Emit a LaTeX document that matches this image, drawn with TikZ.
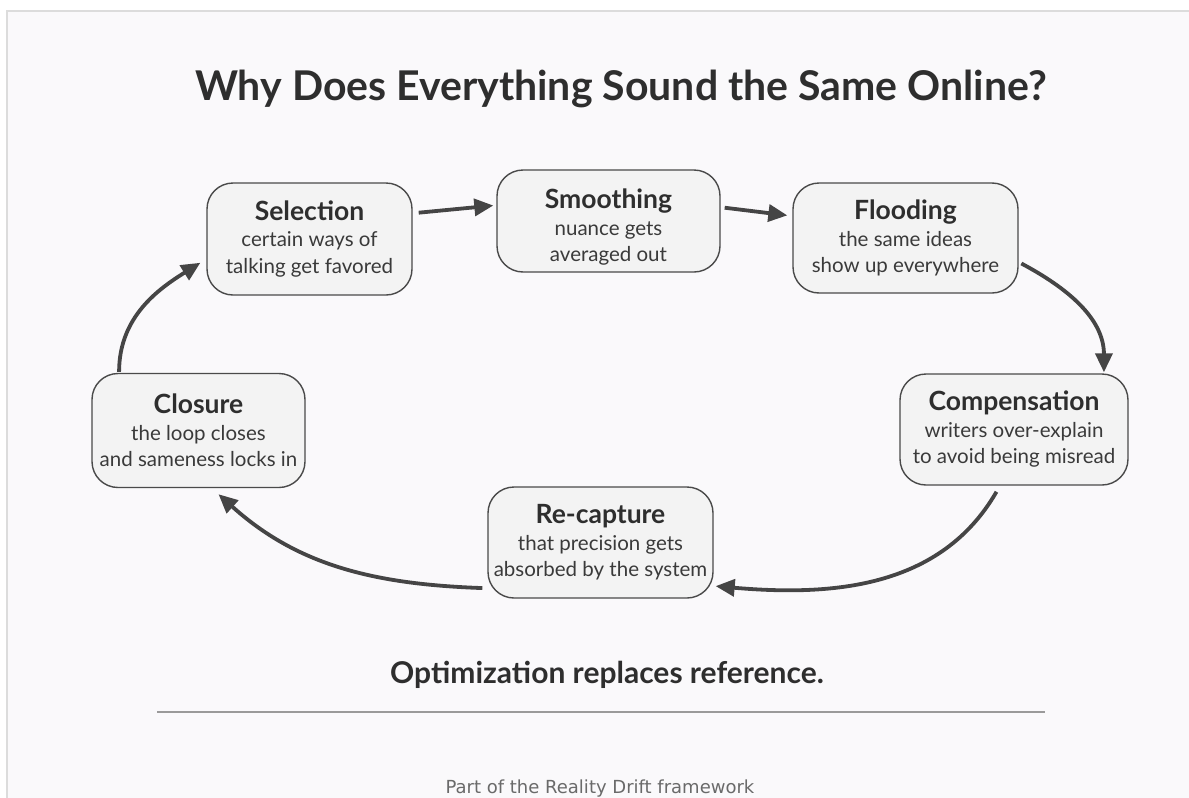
\documentclass[tikz,border=0pt]{standalone}
\usepackage{fontspec}
\setmainfont{Lato}
\newfontfamily\footfont{DejaVu Sans}
\usetikzlibrary{arrows.meta}
\definecolor{ink}{HTML}{2E2E2E}
\definecolor{bodyink}{HTML}{3A3A3A}
\definecolor{boxfill}{HTML}{F3F3F3}
\definecolor{boxedge}{HTML}{4A4A4A}
\definecolor{arrowc}{HTML}{454545}
\definecolor{pagebg}{HTML}{FAF9FB}
\definecolor{pageedge}{HTML}{DCDCDC}
\definecolor{rulec}{HTML}{9A9A9A}
\definecolor{footc}{HTML}{6A6A6A}
\tikzset{
  stage/.style={draw=boxedge, fill=boxfill, line width=1.4pt, rounded corners=26pt,
    align=center, text=bodyink, inner sep=0pt,
    font=\fontsize{20.5}{26.5}\selectfont},
  flow/.style={draw=arrowc, line width=3.8pt, -{Triangle[length=19pt,width=17pt]}},
}
\newcommand{\stagehead}[1]{{\fontsize{26.5}{28}\selectfont\bfseries\color{ink}#1}}
\begin{document}
\begin{tikzpicture}[x=1pt,y=1pt]
\useasboundingbox (0,0) rectangle (1189,-798);
\fill[white] (0,0) rectangle (1189,-798);
\fill[pagebg] (7,-11) rectangle (1189,-798);
\draw[pageedge, line width=1.5pt] (7,-798) -- (7,-11) -- (1189,-11);

\node[anchor=base, text=ink, font=\fontsize{41}{48}\selectfont\bfseries] (title) at (621,-100)
  {Why Does Everything Sound the Same Online?};

\node[stage, minimum width=205pt, minimum height=112pt] (sel) at (309.5,-239)
  {\stagehead{Selection}\\certain ways of\\talking get favored};
\node[stage, minimum width=223pt, minimum height=102pt] (smo) at (608.5,-221)
  {\rule{0pt}{32pt}\stagehead{Smoothing}\\nuance gets\\averaged out};
\node[stage, minimum width=225pt, minimum height=110pt] (flo) at (905.5,-238)
  {\stagehead{Flooding}\\the same ideas\\show up everywhere};
\node[stage, minimum width=228pt, minimum height=111pt] (com) at (1014,-429.5)
  {\stagehead{Compensation}\\writers over-explain\\to avoid being misread};
\node[stage, minimum width=225pt, minimum height=111pt] (rec) at (600.5,-542.5)
  {\stagehead{Re-capture}\\that precision gets\\absorbed by the system};
\node[stage, minimum width=213pt, minimum height=114pt] (clo) at (198.5,-430.5)
  {\stagehead{Closure}\\the loop closes\\and sameness locks in};

\draw[flow, shorten <=6pt, shorten >=3pt] (sel.14) -- (smo.172);
\draw[flow, shorten <=4pt, shorten >=5pt] (smo.7) -- (flo.169);
\draw[flow, shorten <=3pt, shorten >=1pt] (flo.-12) to[out=-28, in=90] (com.32);
\draw[flow, shorten <=7pt, shorten >=2pt] (com.-104) to[out=240, in=-5] (rec.-21);
\draw[flow, shorten <=5pt, shorten >=9pt] (rec.202) to[out=178, in=-42] (clo.-77);
\draw[flow, shorten <=1pt, shorten >=7pt] (clo.144) to[out=90, in=212] (sel.191);

\node[anchor=base, text=ink, font=\fontsize{30}{35}\selectfont\bfseries] (moral) at (607,-683)
  {Optimization replaces reference.};
\coordinate (ruleL) at (157,-712);
\coordinate (ruleR) at (1045,-712);
\draw[rulec, line width=1.3pt] (ruleL) -- (ruleR);
\node[anchor=base, text=footc, font=\footfont\fontsize{18}{21}\selectfont] (foot) at (600,-793)
  {Part of the Reality Drift framework};
\end{tikzpicture}
\end{document}
